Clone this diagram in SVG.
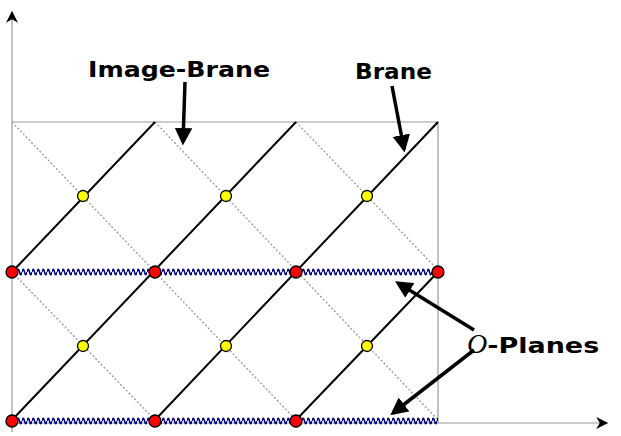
<svg xmlns="http://www.w3.org/2000/svg" width="621" height="436" viewBox="0 0 621 436">
<style>
.ax{stroke:#999;stroke-width:1.2;fill:none}
.br{stroke:#000;stroke-width:2;fill:none}
.im{stroke:#999;stroke-width:1.3;stroke-dasharray:2 2;fill:none}
.red{fill:#f00;stroke:#000;stroke-width:1.3}
.yel{fill:#ff0;stroke:#000;stroke-width:1.3}
.lbl{font-family:"DejaVu Sans",Verdana,sans-serif;font-weight:bold;font-size:22px;fill:#000}
.arr{stroke:#000;stroke-width:3.5;fill:none}
</style>
<defs>
<marker id="ah" viewBox="0 0 10 10" refX="8" refY="5" markerWidth="5" markerHeight="5" orient="auto"><path d="M0 0L10 5L0 10z" fill="#000"/></marker>
<marker id="axh" viewBox="0 0 10 10" refX="9" refY="5" markerWidth="18" markerHeight="12" markerUnits="userSpaceOnUse" orient="auto"><path d="M0 0L10 5L0 10L3 5z" fill="#000"/></marker>
<pattern id="wave" patternUnits="userSpaceOnUse" x="12" y="267" width="5" height="10"><path d="M0 5Q1.25 -0.5 2.5 5T5 5" stroke="#000080" stroke-width="1.6" fill="none"/></pattern>
<pattern id="wave2" patternUnits="userSpaceOnUse" x="12" y="416" width="5" height="10"><path d="M0 5Q1.25 -0.5 2.5 5T5 5" stroke="#000080" stroke-width="1.6" fill="none"/></pattern>
</defs>
<g id="axes">
<line class="ax" x1="12" y1="432" x2="12" y2="12" marker-end="url(#axh)"/>
<line class="ax" x1="5" y1="423" x2="607" y2="423" marker-end="url(#axh)"/>
<path class="ax" d="M12 122H438V423"/>
</g>
<g id="connectors">
<path class="im" d="M12 122L296 420M155 122L438 420M296 122L438 270M12 272L155 420"/>
<path class="br" d="M12 272L155 122M12 420L296 122M155 420L438 122M296 420L438 272"/>
<rect x="12" y="267" width="426" height="10" fill="url(#wave)"/>
<rect x="12" y="416" width="426" height="10" fill="url(#wave2)"/>
<line class="arr" x1="185" y1="82" x2="183" y2="142" marker-end="url(#ah)"/>
<line class="arr" x1="392" y1="86" x2="404" y2="149" marker-end="url(#ah)"/>
<line class="arr" x1="474" y1="330" x2="398" y2="283" marker-end="url(#ah)"/>
<line class="arr" x1="474" y1="350" x2="393" y2="413" marker-end="url(#ah)"/>
</g>
<g id="nodes">
<circle class="red" cx="12" cy="272" r="6"/><circle class="red" cx="155" cy="272" r="6"/><circle class="red" cx="296" cy="272" r="6"/><circle class="red" cx="438" cy="272" r="6"/>
<circle class="red" cx="12" cy="421" r="6"/><circle class="red" cx="155" cy="421" r="6"/><circle class="red" cx="296" cy="421" r="6"/>
<circle class="yel" cx="83" cy="196" r="5.5"/><circle class="yel" cx="226" cy="196" r="5.5"/><circle class="yel" cx="367" cy="196" r="5.5"/>
<circle class="yel" cx="83" cy="346" r="5.5"/><circle class="yel" cx="226" cy="346" r="5.5"/><circle class="yel" cx="367" cy="346" r="5.5"/>
</g>
<g id="labels">
<text class="lbl" x="88" y="77" textLength="182" lengthAdjust="spacingAndGlyphs">Image-Brane</text>
<text class="lbl" x="355" y="79" textLength="77" lengthAdjust="spacingAndGlyphs">Brane</text>
<text class="lbl" x="467" y="353"><tspan font-family="'Liberation Serif',serif" font-style="italic" font-weight="normal" font-size="28" fill="#000">O</tspan><tspan textLength="112" lengthAdjust="spacingAndGlyphs">-Planes</tspan></text>
</g>
</svg>
